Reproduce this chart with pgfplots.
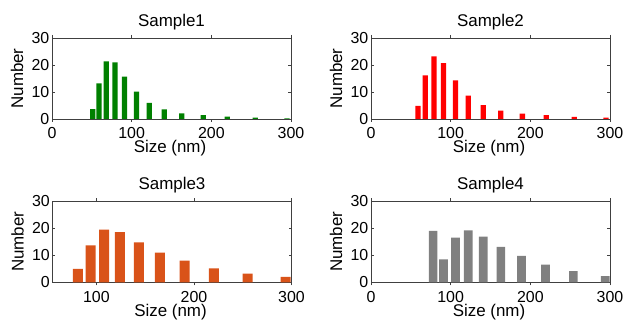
\documentclass[border=0pt]{standalone}
\usepackage{fontspec}
\setmainfont{Liberation Sans}
\usepackage{pgfplots}
\pgfplotsset{compat=1.18}
\definecolor{sgreen}{RGB}{0,128,0}
\definecolor{sred}{RGB}{255,0,0}
\definecolor{sorange}{RGB}{217,83,25}
\definecolor{sgray}{RGB}{128,128,128}
\pgfplotsset{
  hist/.style={
    scale only axis, width=239bp, height=81bp,
    anchor=south west,
    xmin=0, xmax=300, ymin=0, ymax=30,
    xtick={0,100,200,300}, ytick={0,10,20,30},
    tick align=inside, tick pos=both, major tick length=3bp,
    axis line style={black!75, line width=0.6bp},
    every tick/.style={black!75, line width=0.6bp},
    ybar,
    /pgf/number format/assume math mode=true,
    ticklabel style={font=\fontsize{16}{16}\selectfont},
    xticklabel style={anchor=base, yshift=-17bp, inner sep=0pt, text depth=0pt},
    yticklabel style={anchor=east, inner sep=0pt, xshift=-2.5bp},
    xlabel={Size (nm)}, ylabel={Number},
    xlabel style={font=\fontsize{17}{17}\selectfont, at={(axis description cs:0.5,0)}, anchor=base, yshift=-34bp, xshift=-1.5bp, inner sep=0pt, text height=12.5bp, text depth=3.5bp},
    ylabel style={font=\fontsize{17}{17}\selectfont, at={(axis description cs:0,0.5)}, anchor=center, yshift=35bp, inner sep=0pt},
    title style={font=\fontsize{17}{17}\selectfont, at={(axis description cs:0.5,1)}, anchor=base, yshift=6bp, inner sep=0pt},
  }
}
\begin{document}
\begin{tikzpicture}
\useasboundingbox (0,0) rectangle (627bp,321bp);
\begin{axis}[hist, at={(52bp,202bp)}, title={Sample1}, bar width=6.6]
\addplot[fill=sgreen, draw=none] coordinates {(51,3.7) (59,13.2) (68,21.3) (79,21.0) (91,15.7) (106,10.1) (122,6.0) (141,3.6) (163,2.1) (190,1.4) (220,0.9) (255,0.5) (295,0.25)};
\end{axis}
\begin{axis}[hist, at={(371bp,202bp)}, title={Sample2}, bar width=6.6]
\addplot[fill=sred, draw=none] coordinates {(59,4.9) (68,16.2) (79,23.2) (91,20.7) (106,14.3) (122,8.7) (141,5.1) (163,3.1) (190,2.0) (220,1.4) (255,0.75) (295,0.5)};
\end{axis}
\begin{axis}[hist, at={(52.5bp,38.7bp)}, title={Sample3}, xmin=55, xtick={100,200,300}, bar width=10.3]
\addplot[fill=sorange, draw=none] coordinates {(81,5.0) (94,13.7) (108,19.5) (124,18.6) (143.5,14.8) (165,11.0) (190.5,8.0) (220.5,5.2) (255,3.2) (294,2.0)};
\end{axis}
\begin{axis}[hist, at={(371bp,38.7bp)}, title={Sample4}, bar width=10.9]
\addplot[fill=sgray, draw=none] coordinates {(78,19.0) (91,8.5) (106,16.5) (122,19.2) (141,16.9) (163,13.1) (189,9.75) (219,6.5) (254,4.1) (294,2.25)};
\end{axis}
\end{tikzpicture}
\end{document}
